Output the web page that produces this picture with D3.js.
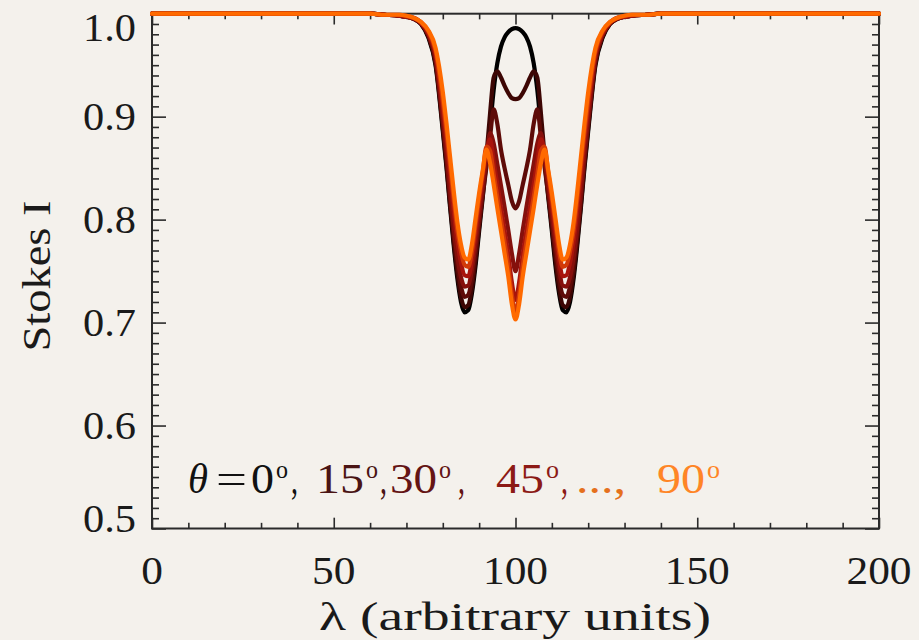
<!DOCTYPE html>
<html>
<head>
<meta charset="utf-8">
<script src="https://cdn.jsdelivr.net/npm/d3@7"></script>
<style>
  html, body { margin: 0; padding: 0; background: #f4f1ec; }
  svg { display: block; }
  text { font-family: "Liberation Serif", "Times New Roman", serif; }
</style>
</head>
<body>
<svg id="chart" width="919" height="640"></svg>
<script>
// Wavelength grid (arbitrary units)
const lambda = [0, 20, 40, 60, 64, 68, 70, 72, 74, 76, 78,
  80, 81, 82, 83, 84, 85, 86, 87, 88, 89, 90, 91, 92, 93, 94, 95, 96, 97, 98, 99, 100,
  101, 102, 103, 104, 105, 106, 107, 108, 109, 110, 111, 112, 113, 114, 115, 116, 117, 118, 119, 120,
  122, 124, 126, 128, 130, 132, 136, 140, 160, 180, 200];

// Stokes I profiles for each inclination of the field
const stokesI_0 = [1.000,1.000,1.000,1.000,0.999,0.998,0.997,0.995,0.990,0.977,0.950,
  0.886,0.851,0.812,0.775,0.743,0.720,0.710,0.712,0.728,0.755,0.789,0.822,0.857,0.890,0.926,0.952,0.968,0.977,0.982,0.985,0.986,
  0.985,0.982,0.977,0.968,0.952,0.926,0.890,0.857,0.822,0.789,0.755,0.728,0.712,0.710,0.720,0.743,0.775,0.812,0.851,0.886,
  0.950,0.977,0.990,0.995,0.997,0.998,0.999,1.000,1.000,1.000,1.000];
const stokesI_15 = [1.000,1.000,1.000,1.000,0.999,0.998,0.997,0.995,0.990,0.978,0.952,
  0.889,0.854,0.815,0.779,0.748,0.725,0.715,0.717,0.733,0.760,0.793,0.827,0.862,0.903,0.938,0.944,0.938,0.930,0.923,0.918,0.917,
  0.918,0.923,0.930,0.938,0.944,0.938,0.903,0.862,0.827,0.793,0.760,0.733,0.717,0.715,0.725,0.748,0.779,0.815,0.854,0.889,
  0.952,0.978,0.990,0.995,0.997,0.998,0.999,1.000,1.000,1.000,1.000];
const stokesI_30 = [1.000,1.000,1.000,1.000,0.999,0.998,0.997,0.995,0.991,0.979,0.954,
  0.893,0.859,0.820,0.785,0.756,0.735,0.725,0.727,0.742,0.767,0.796,0.824,0.851,0.880,0.907,0.893,0.868,0.850,0.834,0.818,0.811,
  0.818,0.834,0.850,0.868,0.893,0.907,0.880,0.851,0.824,0.796,0.767,0.742,0.727,0.725,0.735,0.756,0.785,0.820,0.859,0.893,
  0.954,0.979,0.991,0.995,0.997,0.998,0.999,1.000,1.000,1.000,1.000];
const stokesI_45 = [1.000,1.000,1.000,1.000,0.999,0.998,0.997,0.995,0.991,0.980,0.957,
  0.898,0.865,0.827,0.792,0.764,0.744,0.735,0.736,0.751,0.776,0.804,0.832,0.858,0.884,0.874,0.854,0.833,0.812,0.790,0.767,0.750,
  0.767,0.790,0.812,0.833,0.854,0.874,0.884,0.858,0.832,0.804,0.776,0.751,0.736,0.735,0.744,0.764,0.792,0.827,0.865,0.898,
  0.957,0.980,0.991,0.995,0.997,0.998,0.999,1.000,1.000,1.000,1.000];
const stokesI_60 = [1.000,1.000,1.000,1.000,0.999,0.998,0.997,0.996,0.991,0.981,0.961,
  0.908,0.877,0.842,0.808,0.779,0.758,0.746,0.745,0.760,0.786,0.814,0.841,0.865,0.878,0.856,0.834,0.812,0.789,0.766,0.739,0.722,
  0.739,0.766,0.789,0.812,0.834,0.856,0.878,0.865,0.841,0.814,0.786,0.760,0.745,0.746,0.758,0.779,0.808,0.842,0.877,0.908,
  0.961,0.981,0.991,0.996,0.997,0.998,0.999,1.000,1.000,1.000,1.000];
const stokesI_75 = [1.000,1.000,1.000,1.000,0.999,0.999,0.998,0.996,0.992,0.983,0.964,
  0.916,0.886,0.853,0.820,0.790,0.769,0.756,0.754,0.769,0.795,0.821,0.846,0.871,0.867,0.844,0.822,0.800,0.778,0.755,0.727,0.710,
  0.727,0.755,0.778,0.800,0.822,0.844,0.867,0.871,0.846,0.821,0.795,0.769,0.754,0.756,0.769,0.790,0.820,0.853,0.886,0.916,
  0.964,0.983,0.992,0.996,0.998,0.999,0.999,1.000,1.000,1.000,1.000];
const stokesI_90 = [1.000,1.000,1.000,1.000,0.999,0.999,0.998,0.996,0.992,0.984,0.967,
  0.924,0.894,0.861,0.828,0.798,0.776,0.763,0.761,0.776,0.801,0.826,0.848,0.868,0.855,0.834,0.811,0.789,0.767,0.745,0.718,0.703,
  0.718,0.745,0.767,0.789,0.811,0.834,0.855,0.868,0.848,0.826,0.801,0.776,0.761,0.763,0.776,0.798,0.828,0.861,0.894,0.924,
  0.967,0.984,0.992,0.996,0.998,0.999,0.999,1.000,1.000,1.000,1.000];

const angles = [0, 15, 30, 45, 60, 75, 90];
const profiles = [stokesI_0, stokesI_15, stokesI_30, stokesI_45, stokesI_60, stokesI_75, stokesI_90];
const lineColors = ["#000000", "#3d0604", "#5e0b08", "#85100c", "#a8140c", "#d23a08", "#ff6a00"];

const xMajorTicks = [0, 50, 100, 150, 200];
const yMajorTicks = [0.5, 0.6, 0.7, 0.8, 0.9, 1.0];
const yTickLabels = ["0.5", "0.6", "0.7", "0.8", "0.9", "1.0"];

// Legend pieces: text, colour, left edge, drawn width
const legendPieces = [
  { t: "θ",    c: "#111111", x: 188, w: 20, italic: true },
  { t: "=",    c: "#111111", x: 216, w: 31 },
  { t: "0",    c: "#111111", x: 251, w: 23 },
  { t: "o",    c: "#111111", x: 276, w: 12, sup: true },
  { t: ",",    c: "#111111", x: 291, w: 7 },
  { t: "15",   c: "#4a1414", x: 316, w: 48 },
  { t: "o",    c: "#4a1414", x: 366, w: 12, sup: true },
  { t: ",",    c: "#4a1414", x: 380, w: 7 },
  { t: "30",   c: "#641414", x: 390, w: 47 },
  { t: "o",    c: "#641414", x: 439, w: 12, sup: true },
  { t: ",",    c: "#641414", x: 458, w: 7 },
  { t: "45",   c: "#8c1a16", x: 496, w: 48 },
  { t: "o",    c: "#8c1a16", x: 546, w: 13, sup: true },
  { t: ",",    c: "#8c1a16", x: 561, w: 7 },
  { t: "...,", c: "#e5701c", x: 576, w: 50 },
  { t: "90",   c: "#ff8526", x: 657, w: 48 },
  { t: "o",    c: "#ff8526", x: 707, w: 13, sup: true }
];

const W = 919, H = 640;
const plot = { left: 152, right: 879, top: 13.7, bottom: 528.5 };

const svg = d3.select("#chart");
svg.append("rect").attr("width", W).attr("height", H).attr("fill", "#f4f1ec");

const x = d3.scaleLinear().domain([0, 200]).range([plot.left, plot.right]);
const y = d3.scaleLinear().domain([0.5, 1.0]).range([plot.bottom, plot.top]);

const axisColor = "#2b2b2b";
const textColor = "#1a1a1a";
const plotH = plot.bottom - plot.top;
const plotW = plot.right - plot.left;

function styleAxis(g) {
  g.select(".domain").remove();
  g.selectAll(".tick line").attr("stroke", axisColor).attr("stroke-width", 1.6);
  g.selectAll(".tick text").remove();
}

// Frame
svg.append("rect")
  .attr("x", plot.left).attr("y", plot.top)
  .attr("width", plotW).attr("height", plotH)
  .attr("fill", "none").attr("stroke", axisColor).attr("stroke-width", 2);

// x axes (bottom and top): major every 50, minor every 10, ticks pointing inward
const xMinor = d3.range(0, 201, 10).filter(v => v % 50 !== 0);
[[plot.bottom, d3.axisBottom], [plot.top, d3.axisTop]].forEach(([pos, gen]) => {
  svg.append("g").attr("transform", `translate(0,${pos})`)
    .call(gen(x).tickValues(xMinor).tickSize(-plotH * 0.011).tickFormat(""))
    .call(styleAxis);
  svg.append("g").attr("transform", `translate(0,${pos})`)
    .call(gen(x).tickValues(xMajorTicks).tickSize(-plotH * 0.021).tickFormat(""))
    .call(styleAxis);
});

// y axes (left and right): major every 0.1, minor every 0.01
const yMinor = d3.range(50, 101, 1).map(v => v / 100).filter(v => Math.round(v * 100) % 10 !== 0);
[[plot.left, d3.axisLeft], [plot.right, d3.axisRight]].forEach(([pos, gen]) => {
  svg.append("g").attr("transform", `translate(${pos},0)`)
    .call(gen(y).tickValues(yMinor).tickSize(-7).tickFormat(""))
    .call(styleAxis);
  svg.append("g").attr("transform", `translate(${pos},0)`)
    .call(gen(y).tickValues(yMajorTicks).tickSize(-14).tickFormat(""))
    .call(styleAxis);
});

// Profiles, drawn over the frame
const line = d3.line()
  .x((d, i) => x(lambda[i]))
  .y(d => y(d))
  .curve(d3.curveMonotoneX);

svg.append("g").selectAll("path")
  .data(profiles)
  .join("path")
  .attr("d", d => line(d))
  .attr("fill", "none")
  .attr("stroke", (d, i) => lineColors[i])
  .attr("stroke-width", 4.2)
  .attr("stroke-linejoin", "round")
  .attr("stroke-linecap", "round");

// Tick labels
const labelSize = 39;
const yLabelShift = { "0.5": -10, "1.0": 14 };
svg.append("g").selectAll("text")
  .data(yMajorTicks)
  .join("text")
  .attr("x", plot.left - 16)
  .attr("y", (d, i) => y(d) + 13 + (yLabelShift[yTickLabels[i]] || 0))
  .attr("text-anchor", "end")
  .attr("font-size", labelSize)
  .attr("textLength", 53)
  .attr("lengthAdjust", "spacingAndGlyphs")
  .attr("fill", textColor)
  .text((d, i) => yTickLabels[i]);

svg.append("g").selectAll("text")
  .data(xMajorTicks)
  .join("text")
  .attr("x", d => x(d))
  .attr("y", 584)
  .attr("text-anchor", "middle")
  .attr("font-size", labelSize)
  .attr("textLength", d => String(d).length * 21.7)
  .attr("lengthAdjust", "spacingAndGlyphs")
  .attr("fill", textColor)
  .text(d => d3.format("d")(d));

// Axis titles
svg.append("text")
  .attr("x", 515).attr("y", 630)
  .attr("text-anchor", "middle")
  .attr("font-size", labelSize)
  .attr("textLength", 392)
  .attr("lengthAdjust", "spacingAndGlyphs")
  .attr("fill", textColor)
  .text("λ (arbitrary units)");

svg.append("text")
  .attr("transform", "translate(50,276) rotate(-90)")
  .attr("text-anchor", "middle")
  .attr("font-size", labelSize)
  .attr("textLength", 151)
  .attr("lengthAdjust", "spacingAndGlyphs")
  .attr("fill", textColor)
  .text("Stokes I");

// Legend
const legend = svg.append("g");
legendPieces.forEach(p => {
  const t = legend.append("text")
    .attr("x", p.x)
    .attr("y", p.sup ? 478 : 493)
    .attr("fill", p.c)
    .attr("font-size", p.sup ? 25 : 42)
    .attr("textLength", p.w)
    .attr("lengthAdjust", "spacingAndGlyphs")
    .text(p.t);
  if (p.italic) t.attr("font-style", "italic");
});
</script>
</body>
</html>
